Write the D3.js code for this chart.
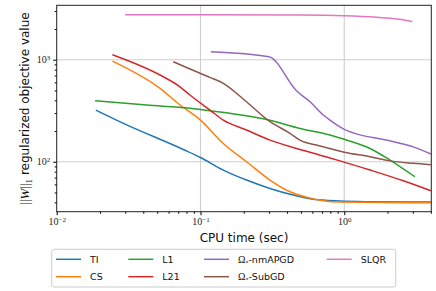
<!DOCTYPE html>
<html lang="en">
<head>
<meta charset="UTF-8"/>
<title>CPU time vs objective</title>
<script src="https://d3js.org/d3.v7.min.js"></script>
<style>
  body { margin: 0; background: #fff; }
  svg text { font-family: "DejaVu Sans", sans-serif; }
  .tick text { font-family: "Liberation Serif", serif; }
</style>
</head>
<body>
<script>
var w = 436;
var h = 291;
var margin = {top: 5.3, right: 4.7, bottom: 79.3, left: 56.7};

// series (CPU time in sec, objective value)
var tiTime  = [0.0187, 0.0291, 0.0759, 0.1, 0.144, 0.209, 0.304, 0.441, 0.608, 0.933, 1.5, 2.5, 4.0];
var tiObj   = [321, 238, 132, 110, 82.9, 66.2, 54.8, 47.2, 42.8, 41.2, 40.6, 40.4, 40.3];

var csTime  = [0.0244, 0.0523, 0.072, 0.1, 0.144, 0.209, 0.304, 0.419, 0.548, 0.714, 0.933, 4.0];
var csObj   = [970, 524, 360, 256, 151, 100, 66.2, 50.8, 44.8, 41.5, 40.3, 39.6];

var l1Time  = [0.0185, 0.0423, 0.0845, 0.1164, 0.299, 0.492, 0.795, 1.0, 1.51, 2.08, 3.10];
var l1Obj   = [396, 359, 334, 316, 256, 212, 183, 166, 135, 104, 71.3];

var l21Time = [0.0244, 0.0523, 0.072, 0.0845, 0.1164, 0.144, 0.209, 0.304, 0.467, 0.678, 0.933, 1.51, 2.57, 4.0];
var l21Obj  = [1119, 708, 543, 451, 321, 256, 205, 163, 135, 116, 102, 82.9, 65.1, 52.0];

var apgdTime = [0.1183, 0.2995, 0.467, 0.578, 0.715, 0.795, 1.0, 1.155, 1.97, 3.02, 4.0];
var apgdObj  = [1197, 1069, 493, 387, 287, 256, 208, 192, 163, 140, 119];

var subTime = [0.0647, 0.0845, 0.1164, 0.144, 0.209, 0.2995, 0.419, 0.492, 0.678, 1.0, 1.51, 2.08, 3.02, 4.0];
var subObj  = [955, 811, 671, 587, 387, 251, 190, 163, 143, 124, 112, 102, 96.5, 93.5];

var slqrTime = [0.0299, 0.1, 0.492, 1.0, 1.68, 2.44, 2.97];
var slqrObj  = [2760, 2755, 2742, 2698, 2604, 2489, 2358];

var seriesNames  = ["TI", "CS", "L1", "L21", "Ω*-nmAPGD", "Ω*-SubGD", "SLQR"];
var seriesColors = ["#1f77b4", "#ff7f0e", "#2ca02c", "#d62728", "#9467bd", "#8c564b", "#e377c2"];
var seriesTimes  = [tiTime, csTime, l1Time, l21Time, apgdTime, subTime, slqrTime];
var seriesObjs   = [tiObj, csObj, l1Obj, l21Obj, apgdObj, subObj, slqrObj];

var xMajor = [0.01, 0.1, 1];
var xMajorExp = ["−2", "−1", "0"];
var yMajor = [100, 1000];
var yMajorExp = ["2", "3"];

var xScale = d3.scaleLog()
    .domain([0.01, 4.03])
    .range([margin.left, w - margin.right]);

var yScale = d3.scaleLog()
    .domain([32.4, 3414])
    .range([h - margin.bottom, margin.top]);

var svg = d3.select("body")
    .append("svg")
    .attr("width", w)
    .attr("height", h);

// minor tick values
var xMinor = [];
[0.01, 0.1, 1].forEach(function(d) {
    for (var k = 2; k <= 9; k++) if (d * k <= 4.03) xMinor.push(d * k);
});
var yMinor = [];
[10, 100, 1000].forEach(function(d) {
    for (var k = 2; k <= 9; k++) if (d * k >= 32.4 && d * k <= 3414) yMinor.push(d * k);
});

/* grid */
svg.append("g").selectAll("line")
    .data(xMajor.filter(function(d) { return d > 0.01; }))
    .enter().append("line")
    .attr("x1", d => xScale(d)).attr("x2", d => xScale(d))
    .attr("y1", margin.top).attr("y2", h - margin.bottom)
    .attr("stroke", "#cfcfcf").attr("stroke-width", 1.1);

svg.append("g").selectAll("line")
    .data(yMajor)
    .enter().append("line")
    .attr("x1", margin.left).attr("x2", w - margin.right)
    .attr("y1", d => yScale(d)).attr("y2", d => yScale(d))
    .attr("stroke", "#cfcfcf").attr("stroke-width", 1.1);

/* lines */
var line = d3.line()
    .x(d => xScale(d[0]))
    .y(d => yScale(d[1]))
    .curve(d3.curveMonotoneX);

seriesNames.forEach(function(name, i) {
    var pts = seriesTimes[i].map(function(t, j) { return [t, seriesObjs[i][j]]; });
    svg.append("path")
        .datum(pts)
        .attr("fill", "none")
        .attr("stroke", seriesColors[i])
        .attr("stroke-width", 1.5)
        .attr("d", line);
});

/* frame */
svg.append("rect")
    .attr("x", margin.left).attr("y", margin.top)
    .attr("width", w - margin.left - margin.right)
    .attr("height", h - margin.top - margin.bottom)
    .attr("fill", "none").attr("stroke", "#222").attr("stroke-width", 1);

function supLabels(sel, exps) {
    sel.selectAll(".tick text").each(function(d, i) {
        var t = d3.select(this);
        t.text(null);
        t.append("tspan").text("10");
        t.append("tspan").attr("dy", "-0.45em").attr("font-size", "7px").text(exps[i]);
    });
}

/* X axis */
var gx = svg.append("g")
    .attr("transform", "translate(0," + (h - margin.bottom) + ")")
    .call(d3.axisBottom(xScale).tickValues(xMajor).tickSize(3.5).tickPadding(3).tickFormat(""));
gx.select(".domain").remove();
gx.selectAll(".tick text").attr("font-size", "10px").attr("fill", "#222");
supLabels(gx, xMajorExp);

var gxm = svg.append("g")
    .attr("transform", "translate(0," + (h - margin.bottom) + ")")
    .call(d3.axisBottom(xScale).tickValues(xMinor).tickSize(2).tickFormat(""));
gxm.select(".domain").remove();

svg.append("text")
    .attr("x", (margin.left + w - margin.right) / 2)
    .attr("y", 242)
    .attr("text-anchor", "middle")
    .attr("font-size", "12px")
    .attr("fill", "#111")
    .text("CPU time (sec)");

/* Y axis */
var gy = svg.append("g")
    .attr("transform", "translate(" + margin.left + ",0)")
    .call(d3.axisLeft(yScale).tickValues(yMajor).tickSize(3.5).tickPadding(3).tickFormat(""));
gy.select(".domain").remove();
gy.selectAll(".tick text").attr("font-size", "10px").attr("fill", "#222");
supLabels(gy, yMajorExp);

var gym = svg.append("g")
    .attr("transform", "translate(" + margin.left + ",0)")
    .call(d3.axisLeft(yScale).tickValues(yMinor).tickSize(2).tickFormat(""));
gym.select(".domain").remove();

var ylab = svg.append("text")
    .attr("transform", "translate(29," + ((margin.top + h - margin.bottom) / 2) + ") rotate(-90)")
    .attr("text-anchor", "middle")
    .attr("font-size", "12px")
    .attr("fill", "#111");
ylab.append("tspan").attr("font-family", "Liberation Serif, serif").attr("font-size", "13px").text("||");
ylab.append("tspan").attr("font-family", "Liberation Serif, serif").attr("font-style", "italic").attr("font-size", "13px").text("W");
ylab.append("tspan").attr("font-family", "Liberation Serif, serif").attr("font-size", "13px").text("||");
ylab.append("tspan").attr("font-family", "Liberation Serif, serif").attr("font-size", "9px").attr("dy", "3").text("1");
ylab.append("tspan").attr("dy", "-3").text(" regularized objective value");

/* legend */
var legend = svg.append("g");
legend.append("rect")
    .attr("x", 51.7).attr("y", 249.3)
    .attr("width", 344).attr("height", 37.7)
    .attr("rx", 2.5)
    .attr("fill", "#fff").attr("fill-opacity", 0.8)
    .attr("stroke", "#cccccc").attr("stroke-width", 1);

var colX = [56, 128.3, 204, 326.7];
var rowY = [259.3, 276.7];

seriesNames.forEach(function(name, i) {
    var col = Math.floor(i / 2), row = i % 2;
    var x0 = colX[col], y0 = rowY[row];
    legend.append("line")
        .attr("x1", x0).attr("x2", x0 + 25)
        .attr("y1", y0).attr("y2", y0)
        .attr("stroke", seriesColors[i]).attr("stroke-width", 1.5);
    var t = legend.append("text")
        .attr("x", x0 + 34).attr("y", y0 + 3.5)
        .attr("font-size", "9.5px")
        .attr("fill", "#111");
    if (name.indexOf("Ω*") === 0) {
        t.append("tspan").attr("font-family", "Liberation Serif, serif").attr("font-size", "10px").text("Ω");
        t.append("tspan").attr("font-size", "6px").attr("dy", "2").text("*");
        t.append("tspan").attr("dy", "-2").text(name.slice(2));
    } else {
        t.text(name);
    }
});
</script>
</body>
</html>
